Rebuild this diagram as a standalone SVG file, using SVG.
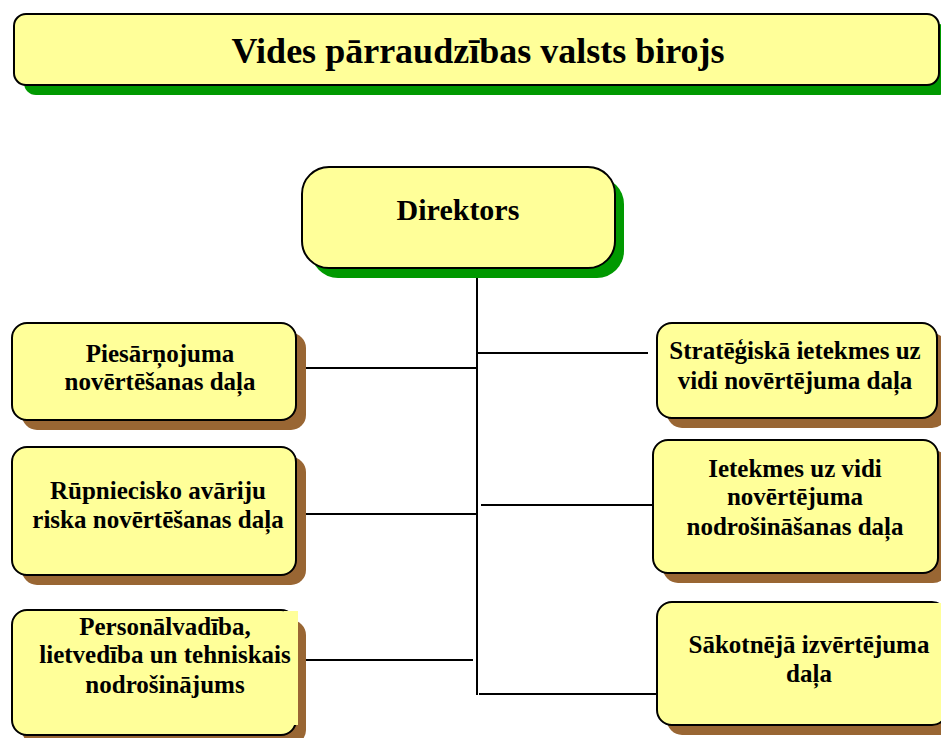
<svg xmlns="http://www.w3.org/2000/svg" width="941" height="738" viewBox="0 0 941 738">
<style>
.box{fill:#FFFF99;stroke:#000;stroke-width:2}
.gs{fill:#009900}
.bs{fill:#996633}
.t{font-family:"Liberation Serif","Times New Roman",serif;font-weight:bold;fill:#000;text-anchor:middle}
.s{font-size:25px}
.ln{stroke:#000;stroke-width:2;fill:none}
</style>
<rect width="941" height="738" fill="#fff"/>
<g id="title">
<rect class="gs" x="24" y="24" width="926" height="71" rx="12"/>
<rect class="box" x="14" y="14" width="925" height="71" rx="12"/>
<text class="t" x="478" y="63" font-size="36">Vides pārraudzības valsts birojs</text>
</g>
<g id="connectors">
<line class="ln" x1="477" y1="277" x2="477" y2="695"/>
<line class="ln" x1="306" y1="368" x2="477" y2="368"/>
<line class="ln" x1="306" y1="514" x2="477" y2="514"/>
<line class="ln" x1="296" y1="660" x2="473" y2="660"/>
<line class="ln" x1="476" y1="353" x2="648" y2="353"/>
<line class="ln" x1="481" y1="505" x2="653" y2="505"/>
<line class="ln" x1="479" y1="694" x2="657" y2="694"/>
</g>
<g id="direktors">
<rect class="gs" x="311" y="177" width="313" height="101" rx="27"/>
<rect class="box" x="302" y="167" width="313" height="101" rx="27"/>
<text class="t" x="458" y="220" font-size="30">Direktors</text>
</g>
<g id="piesarnojuma">
<rect class="bs" x="22" y="333" width="284" height="97" rx="15"/>
<rect class="box" x="12" y="323" width="284" height="97" rx="15"/>
<text class="t s" x="160" y="362">Piesārņojuma</text>
<text class="t s" x="160" y="390">novērtēšanas daļa</text>
</g>
<g id="rupniecisko">
<rect class="bs" x="22" y="457" width="284" height="128" rx="15"/>
<rect class="box" x="12" y="447" width="284" height="128" rx="15"/>
<text class="t s" x="158" y="499">Rūpniecisko avāriju</text>
<text class="t s" x="158" y="528">riska novērtēšanas daļa</text>
</g>
<g id="personalvadiba">
<rect class="bs" x="22" y="620" width="284" height="125" rx="15"/>
<rect class="box" x="12" y="610" width="284" height="125" rx="15"/>
<rect x="284" y="611" width="14" height="114" fill="#FFFF99"/>
<text class="t s" x="165" y="635">Personālvadība,</text>
<text class="t s" x="165" y="663">lietvedība un tehniskais</text>
<text class="t s" x="165" y="693">nodrošinājums</text>
</g>
<g id="strategiska">
<rect class="bs" x="667" y="333" width="280" height="95" rx="15"/>
<rect class="box" x="657" y="323" width="280" height="95" rx="15"/>
<text class="t s" x="795" y="359">Stratēģiskā ietekmes uz</text>
<text class="t s" x="795" y="389">vidi novērtējuma daļa</text>
</g>
<g id="ietekmes">
<rect class="bs" x="663" y="450" width="285" height="133" rx="15"/>
<rect class="box" x="653" y="440" width="285" height="133" rx="15"/>
<text class="t s" x="795" y="477">Ietekmes uz vidi</text>
<text class="t s" x="795" y="505">novērtējuma</text>
<text class="t s" x="795" y="535">nodrošināšanas daļa</text>
</g>
<g id="sakotneja">
<rect class="bs" x="667" y="612" width="290" height="123" rx="15"/>
<rect class="box" x="657" y="602" width="290" height="123" rx="15"/>
<rect x="932" y="603" width="10" height="116" fill="#FFFF99"/>
<text class="t s" x="809" y="653">Sākotnējā izvērtējuma</text>
<text class="t s" x="809" y="682">daļa</text>
</g>
</svg>
